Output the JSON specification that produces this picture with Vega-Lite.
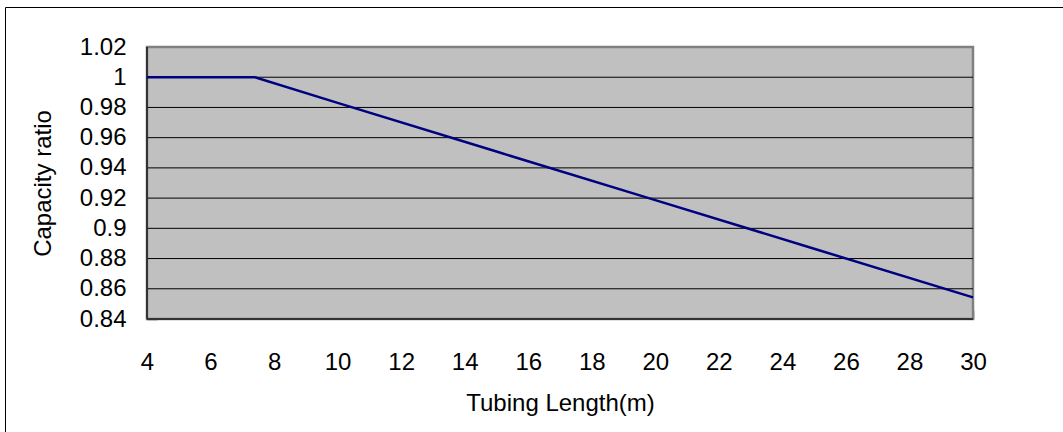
{
  "$schema": "https://vega.github.io/schema/vega-lite/v6.json",
  "autosize": {"type": "none"},
  "padding": {"left": 5, "top": 7, "right": 0, "bottom": 0},
  "width": 1059,
  "height": 426,
  "background": "white",
  "config": {
    "view": {"stroke": "#000000", "strokeWidth": 1, "fill": "white"},
    "font": "Liberation Sans"
  },
  "datasets": {
    "curve": [
      {"x": 4, "y": 1.0},
      {"x": 5, "y": 1.0},
      {"x": 6, "y": 1.0},
      {"x": 7, "y": 1.0},
      {"x": 7.4, "y": 1.0},
      {"x": 10, "y": 0.983},
      {"x": 15, "y": 0.9508},
      {"x": 20, "y": 0.9187},
      {"x": 25, "y": 0.8865},
      {"x": 30, "y": 0.8543}
    ],
    "panel": [{"x": 4, "x2": 30, "y": 0.84, "y2": 1.02}],
    "grid": [
      {"x": 4, "x2": 30, "y": 0.86},
      {"x": 4, "x2": 30, "y": 0.88},
      {"x": 4, "x2": 30, "y": 0.9},
      {"x": 4, "x2": 30, "y": 0.92},
      {"x": 4, "x2": 30, "y": 0.94},
      {"x": 4, "x2": 30, "y": 0.96},
      {"x": 4, "x2": 30, "y": 0.98},
      {"x": 4, "x2": 30, "y": 1.0}
    ],
    "baseEdge": [{"x": 4, "x2": 30, "y": 0.84}],
    "sideEdge": [{"x": 4, "y": 0.84, "y2": 1.02}]
  },
  "encoding": {
    "x": {
      "field": "x",
      "type": "quantitative",
      "scale": {"domain": [-0.4697, 32.8645], "nice": false, "zero": false},
      "axis": {
        "orient": "bottom",
        "offset": -114,
        "values": [4, 6, 8, 10, 12, 14, 16, 18, 20, 22, 24, 26, 28, 30],
        "domain": false,
        "grid": false,
        "ticks": true,
        "tickSize": -9,
        "tickColor": "#404040",
        "tickWidth": 1.5,
        "labelPadding": 40,
        "labelFont": "Liberation Sans",
        "labelFontSize": 24,
        "labelColor": "#000000",
        "labelFlush": false,
        "labelOverlap": false,
        "title": "Tubing Length(m)",
        "titleFont": "Liberation Sans",
        "titleFontSize": 24,
        "titleFontWeight": "normal",
        "titleColor": "#000000",
        "titleX": 555,
        "titleY": 91,
        "titleAlign": "center",
        "titleBaseline": "alphabetic"
      }
    },
    "y": {
      "field": "y",
      "type": "quantitative",
      "scale": {"domain": [0.764560, 1.046471], "nice": false, "zero": false},
      "axis": {
        "orient": "left",
        "offset": -142,
        "values": [0.84, 0.86, 0.88, 0.9, 0.92, 0.94, 0.96, 0.98, 1.0, 1.02],
        "format": ".2~f",
        "domain": false,
        "grid": false,
        "ticks": true,
        "tickSize": -10,
        "tickColor": "#404040",
        "tickWidth": 1.5,
        "labelPadding": 31,
        "labelFont": "Liberation Sans",
        "labelFontSize": 24,
        "labelColor": "#000000",
        "labelFlush": false,
        "labelOverlap": false,
        "title": "Capacity ratio",
        "titleFont": "Liberation Sans",
        "titleFontSize": 24,
        "titleFontWeight": "normal",
        "titleColor": "#000000",
        "titleAngle": 270,
        "titleX": -97,
        "titleY": 176,
        "titleAlign": "center",
        "titleBaseline": "alphabetic"
      }
    }
  },
  "layer": [
    {
      "data": {"name": "panel"},
      "mark": {"type": "rect", "fill": "#C0C0C0", "stroke": "#808080", "strokeWidth": 2.5},
      "encoding": {"x2": {"field": "x2"}, "y2": {"field": "y2"}}
    },
    {
      "data": {"name": "grid"},
      "mark": {"type": "rule", "color": "#000000", "strokeWidth": 1},
      "encoding": {"x2": {"field": "x2"}}
    },
    {
      "data": {"name": "baseEdge"},
      "mark": {"type": "rule", "color": "#333333", "strokeWidth": 2},
      "encoding": {"x2": {"field": "x2"}}
    },
    {
      "data": {"name": "sideEdge"},
      "mark": {"type": "rule", "color": "#333333", "strokeWidth": 2},
      "encoding": {"y2": {"field": "y2"}}
    },
    {
      "data": {"name": "curve"},
      "mark": {"type": "line", "color": "#000080", "strokeWidth": 2.5},
      "encoding": {}
    }
  ]
}
